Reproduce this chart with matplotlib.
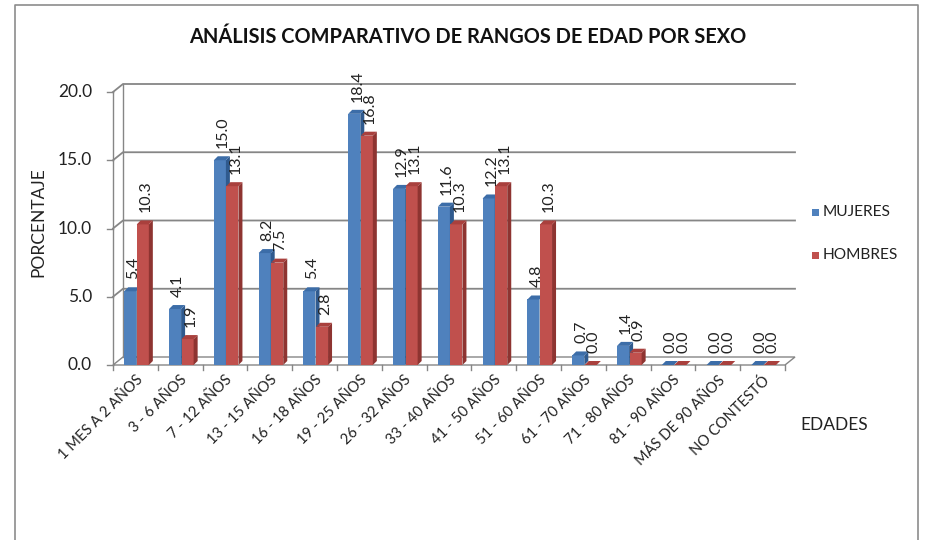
import matplotlib
matplotlib.use("Agg")
import matplotlib.pyplot as plt
from matplotlib.patches import Polygon, Rectangle
from matplotlib.lines import Line2D
import numpy as np

categories = ["1 MES A 2 AÑOS", "3 - 6 AÑOS", "7 - 12 AÑOS", "13 - 15 AÑOS", "16 - 18 AÑOS",
              "19 - 25 AÑOS", "26 - 32 AÑOS", "33 - 40 AÑOS", "41 - 50 AÑOS", "51 - 60 AÑOS",
              "61 - 70 AÑOS", "71 - 80 AÑOS", "81 - 90 AÑOS", "MÁS DE 90 AÑOS", "NO CONTESTÓ"]
mujeres = [5.4, 4.1, 15.0, 8.2, 5.4, 18.4, 12.9, 11.6, 12.2, 4.8, 0.7, 1.4, 0.0, 0.0, 0.0]
hombres = [10.3, 1.9, 13.1, 7.5, 2.8, 16.8, 13.1, 10.3, 13.1, 10.3, 0.0, 0.9, 0.0, 0.0, 0.0]
yticks = [0, 5, 10, 15, 20]
series_names = ["MUJERES", "HOMBRES"]

FONT = "Lato"
W, H = 926, 540
fig = plt.figure(figsize=(W / 100, H / 100), dpi=100)
L, R, T, B = 113, 785, 92, 365
ax = fig.add_axes([L / W, 1 - B / H, (R - L) / W, (B - T) / H])
ax.set_xlim(-0.5, len(categories) - 0.5)
ax.set_ylim(0, 20)
ax.axis("off")

# pixel -> data unit conversions
px_x = len(categories) / (R - L)
px_y = 20 / (B - T)

grid_col = "#868686"
# back wall offset
bx, by = 10 * px_x, 8 * px_y
x0, x1 = -0.5, len(categories) - 0.5

# floor
floor = Polygon([(x0, 0), (x1, 0), (x1 + bx, by), (x0 + bx, by)], closed=True,
                facecolor="white", edgecolor=grid_col, lw=1.0, zorder=1, clip_on=False)
ax.add_patch(floor)
# left walls
ax.plot([x0, x0], [0, 20], color=grid_col, lw=1.0, zorder=1, clip_on=False)
ax.plot([x0 + bx, x0 + bx], [by, 20 + by], color=grid_col, lw=1.0, zorder=1, clip_on=False)
for v in yticks:
    if v > 0:
        ax.plot([x0, x0 + bx, x1 + bx], [v, v + by, v + by], color=grid_col, lw=1.3,
                zorder=1, clip_on=False)
    ax.plot([x0 - 6 * px_x, x0], [v, v], color=grid_col, lw=1.0, clip_on=False)
    ax.text(x0 - 21 * px_x, v, f"{v:.1f}", ha="right", va="center", fontsize=12.5,
            family=FONT, color="#222222")
# x ticks
for i in range(len(categories) + 1):
    ax.plot([x0 + i, x0 + i], [0, -5 * px_y], color=grid_col, lw=1.0, clip_on=False)

# bars with fake 3D
dx, dy = 4 * px_x, 4 * px_y
bw = 0.27
face = ["#4F81BD", "#C0504D"]
side = ["#2F5A8E", "#8E3431"]
top = ["#3C6DA8", "#A9403D"]
offs = [-0.25, 0.03]
for s, vals in enumerate([mujeres, hombres]):
    xs = np.arange(len(categories)) + offs[s]
    ax.bar(xs, vals, width=bw, align="edge", color=face[s], zorder=3 + s, linewidth=0)
    for x, v in zip(xs, vals):
        ax.add_patch(Polygon([(x + bw, 0), (x + bw + dx, dy), (x + bw + dx, v + dy), (x + bw, v)],
                             closed=True, facecolor=side[s], lw=0, zorder=3 + s, clip_on=False))
        ax.add_patch(Polygon([(x, v), (x + dx, v + dy), (x + bw + dx, v + dy), (x + bw, v)],
                             closed=True, facecolor=top[s], lw=0, zorder=3 + s, clip_on=False))
        ax.text(x + bw / 2 + 3 * px_x, v + 12 * px_y, f"{v:.1f}", rotation=90, ha="center",
                va="bottom", fontsize=11.5, family=FONT, color="#222222", zorder=10)

# category labels
for i, c in enumerate(categories):
    ax.text(i + 0 * px_x, -8 * px_y, c, rotation=45, ha="right", va="top",
            rotation_mode="anchor", fontsize=10.5, family=FONT, color="#222222")

# axis titles and title
fig.text(468 / W, 1 - 37 / H, "ANÁLISIS COMPARATIVO DE RANGOS DE EDAD POR SEXO",
         ha="center", va="center", fontsize=14.4, fontweight="bold", family=FONT, color="#111111")
fig.text(38 / W, 1 - 222 / H, "PORCENTAJE", rotation=90, ha="center", va="center",
         fontsize=12.5, family=FONT, color="#222222")
fig.text(834 / W, 1 - 425 / H, "EDADES", ha="center", va="center", fontsize=12.5,
         family=FONT, color="#222222")

# legend
for s, (name, yy) in enumerate(zip(series_names, [212, 255])):
    fig.patches.append(Rectangle((812 / W, 1 - (yy + 4) / H), 7 / W, 7 / H,
                                 transform=fig.transFigure, facecolor=face[s], lw=0))
    fig.text(823 / W, 1 - yy / H, name, ha="left", va="center", fontsize=11.2,
             family=FONT, color="#222222")

# outer frame
fig.add_artist(Line2D([15 / W, 15 / W, 918 / W, 918 / W], [0, 1 - 5 / H, 1 - 5 / H, 0],
                      transform=fig.transFigure, color="#8C8C8C", lw=1.2))

fig.savefig("out.png", dpi=100)
